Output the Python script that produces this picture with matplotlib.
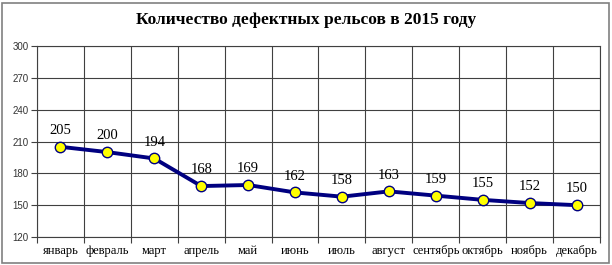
import matplotlib
matplotlib.use("Agg")
import matplotlib.pyplot as plt
from matplotlib.patches import Rectangle

months = ["январь", "февраль", "март", "апрель", "май", "июнь", "июль",
          "август", "сентябрь", "октябрь", "ноябрь", "декабрь"]
values = [205, 200, 194, 168, 169, 162, 158, 163, 159, 155, 152, 150]
yticks = [120, 150, 180, 210, 240, 270, 300]
title = "Количество дефектных рельсов в 2015 году"

W, H = 612, 265
fig = plt.figure(figsize=(W / 100, H / 100), dpi=100)
fig.patch.set_facecolor("white")
fig.add_artist(Rectangle((2 / W, 2 / H), (W - 5) / W, (H - 5) / H, transform=fig.transFigure,
                         fill=False, edgecolor="#808080", linewidth=1.2))

ax = fig.add_axes([37 / W, 1 - 237 / H, (600 - 37) / W, (237 - 46) / H])
x = list(range(len(months)))
ax.plot(x, values, color="#000080", linewidth=2.8, marker="o", markersize=7.5,
        markerfacecolor="#FFFF00", markeredgecolor="#000080", markeredgewidth=1.0, zorder=3)
for xi, v in zip(x, values):
    ax.annotate(str(v), (xi, v), xytext=(0, 7), textcoords="offset points",
                ha="center", va="bottom", fontsize=10.5, family="Liberation Serif")

ax.set_xlim(-0.5, len(months) - 0.5)
ax.set_ylim(120, 300)
ax.set_yticks(yticks)
ax.set_yticklabels([str(t) for t in yticks], fontsize=7, family="Liberation Sans", color="#333333")
ax.set_xticks([i - 0.5 for i in range(len(months) + 1)], minor=False)
ax.set_xticklabels([])
ax.set_xticks(x, minor=True)
ax.set_xticklabels(months, minor=True, fontsize=9, family="Liberation Serif")
ax.tick_params(axis="x", which="minor", length=0, pad=6)
ax.tick_params(axis="x", which="major", length=4, color="#404040")
ax.tick_params(axis="y", length=4, color="#404040", pad=2)
ax.grid(True, which="major", color="#404040", linewidth=0.8)
ax.set_axisbelow(True)
for s in ["top", "right"]:
    ax.spines[s].set_color("#404040")
    ax.spines[s].set_linewidth(0.8)
for s in ["left", "bottom"]:
    ax.spines[s].set_color("#404040")
    ax.spines[s].set_linewidth(0.8)

fig.text(0.5, 1 - 20 / H, title, ha="center", va="center", fontsize=12.5,
         fontweight="bold", family="Liberation Serif")

fig.savefig("out.png", dpi=100)
